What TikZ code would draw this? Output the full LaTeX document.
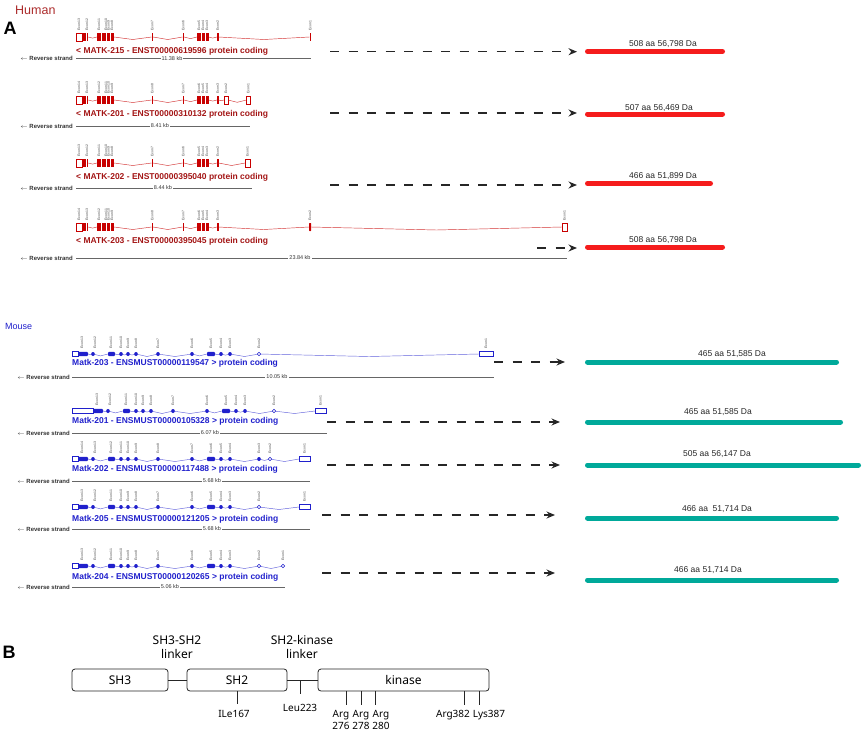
\documentclass[tikz,border=0pt]{standalone}
\usepackage{fontspec}
\setmainfont{Liberation Sans}
\newfontfamily\domainfont{Noto Sans}
\usetikzlibrary{arrows.meta, calc}

\definecolor{humanred}{HTML}{A31515}
\definecolor{exonred}{HTML}{C80000}
\definecolor{barred}{HTML}{F51C1C}
\definecolor{mouseblue}{HTML}{2020CC}
\definecolor{barteal}{HTML}{00A99A}

\begin{document}
\begin{tikzpicture}[
        x=1pt, y=-1pt,
        letter/.style={inner sep=0pt, font=\fontsize{18}{18}\selectfont\bfseries},
        exon-label/.style={rotate=90, anchor=west, inner sep=0pt, text=black!75, font=\fontsize{3.4}{3.4}\selectfont},
        h-title/.style={anchor=west, inner sep=0pt, text=humanred, font=\fontsize{8.5}{9}\selectfont\bfseries},
        m-title/.style={anchor=west, inner sep=0pt, text=mouseblue, font=\fontsize{8.5}{9}\selectfont\bfseries},
        strand/.style={anchor=east, inner sep=0pt, text=black!80, font=\fontsize{6}{6}\selectfont\bfseries},
        scale-line/.style={draw=black!60, line width=0.6pt},
        kb/.style={fill=white, inner sep=1pt, text=black!80, font=\fontsize{5.5}{5.5}\selectfont},
        h-intron/.style={draw=exonred!80, line width=0.45pt},
        h-exon/.style={fill=exonred},
        h-utr/.style={draw=exonred, fill=white, line width=0.5pt},
        m-intron/.style={draw=mouseblue!70, line width=0.45pt},
        m-exon/.style={fill=mouseblue},
        m-utr/.style={draw=mouseblue, fill=white, line width=0.5pt},
        flow/.style={draw=black!85, line width=1.3pt, dash pattern=on 9pt off 9.5pt, -{Stealth[length=8.5pt, width=7pt]}},
        h-bar/.style={draw=barred, line width=5pt, line cap=round},
        m-bar/.style={draw=barteal, line width=5pt, line cap=round},
        bar-label/.style={inner sep=0pt, text=black!85, font=\fontsize{8.5}{9}\selectfont},
        domain-box/.style={draw=black!85, line width=0.8pt, rounded corners=3pt, minimum height=22pt, inner sep=0pt, font=\domainfont\fontsize{12}{12}\selectfont},
        linker-label/.style={align=center, inner sep=0pt, font=\domainfont\fontsize{12}{14}\selectfont},
        site/.style={draw=black!85, line width=0.8pt},
        site-label/.style={below=6pt, align=center, inner sep=0pt, font=\domainfont\fontsize{10}{12}\selectfont},
    ]
    \useasboundingbox (0,0) rectangle (865,736);

    % panel A, human
    \node[anchor=west, inner sep=0pt, text=humanred!90, font=\fontsize{12.5}{12.5}\selectfont] (human) at (15,10) {Human};
    \node[letter] (letter-a) at (10,28.5) {A};

    \foreach \y/\n in {37/13, 100/14, 163/13, 227/14}
    {
        \foreach \a/\b in {88.3/97, 114/151.6, 153/182.6, 184/197, 208.5/217}
            \draw[h-intron] (\a,\y) -- ({(\a+\b)/2},{\y+min(2.5,(\b-\a)/8)}) -- (\b,\y);
        \draw[h-utr] (76,\y-4) rectangle (82,\y+4);
        \foreach \a/\b in {82/86, 86.8/88.3, 97/101, 102/105.5, 106.5/109.5, 110.5/114, 151.6/153, 182.6/184, 197/200.5, 201.5/204.5, 205.5/208.5, 217/218.5}
            \fill[h-exon] (\a,\y-4) rectangle (\b,\y+4);
        \foreach \x [count=\i] in {79, 87, 99, 106, 108.5, 112, 152.3, 183.3, 199, 203, 207, 217.8}
        {
            \pgfmathtruncatemacro{\k}{\n-\i+1}
            \node[exon-label] at (\x,\y-6) {Exon \k};
        }
    }

    % MATK-215
    \draw[h-intron] (218.5,37) -- (264,39.5) -- (309.5,37);
    \fill[h-exon] (309.5,33) rectangle (311,41);
    \node[exon-label] at (310.2,31) {Exon 1};
    % MATK-201
    \draw[h-intron] (218.5,100) -- (221.2,100.7) -- (224,100);
    \draw[h-intron] (228,100) -- (237.2,102.3) -- (246.5,100);
    \draw[h-utr] (224,96) rectangle (228,104);
    \draw[h-utr] (246.5,96) rectangle (250,104);
    \node[exon-label] at (226,94) {Exon 2};
    \node[exon-label] at (248.2,94) {Exon 1};
    % MATK-202
    \draw[h-intron] (218.5,163) -- (231.7,165.5) -- (245,163);
    \draw[h-utr] (245,159) rectangle (250,167);
    \node[exon-label] at (247.5,157) {Exon 1};
    % MATK-203
    \draw[h-intron] (218.5,227) -- (263.7,229.5) -- (309,227);
    \draw[h-intron] (311,227) -- (436.5,230) -- (562,227);
    \fill[h-exon, rounded corners=0.5pt] (309,223) rectangle (311,231);
    \draw[h-utr] (562,223) rectangle (567,231);
    \node[exon-label] at (310,221) {Exon 2};
    \node[exon-label] at (564.5,221) {Exon 1};

    \node[h-title] (h215-title) at (76,51.7) {< MATK-215 - ENST00000619596 protein coding};
    \node[h-title] (h201-title) at (76,114.3) {< MATK-201 - ENST00000310132 protein coding};
    \node[h-title] (h202-title) at (76,177) {< MATK-202 - ENST00000395040 protein coding};
    \node[h-title] (h203-title) at (76,241) {< MATK-203 - ENST00000395045 protein coding};

    \foreach \y/\xe/\xk/\len in {58.5/311/172/11.38, 126/250/160/8.41, 188/252/163/8.44, 258/567/300/23.84}
    {
        \node[strand] at (73,\y) {$\leftarrow$ Reverse strand};
        \draw[scale-line] (76,\y) -- (\xe,\y);
        \node[kb] at (\xk,\y) {\len\ kb};
    }

    \foreach \id/\xs/\ya/\xt/\yb/\xe/\lx/\ly/\txt in {
        h215/330/51.7/577/51.5/722.5/663/44/{508 aa 56,798 Da},
        h201/330/113/577/114/722.5/659/108/{507 aa 56,469 Da},
        h202/330/185/577/183.5/710.5/663/176/{466 aa 51,899 Da},
        h203/537/248/577/247/722.5/663/240/{508 aa 56,798 Da}}
    {
        \coordinate (\id-out) at (\xs,\ya);
        \coordinate (\id-tip) at (\xt,\ya);
        \draw[flow] (\id-out) -- (\id-tip);
        \draw[h-bar] (587.5,\yb) -- (\xe,\yb);
        \node[bar-label] (\id-label) at (\lx,\ly) {\txt};
    }

    % panel A, mouse
    \node[anchor=west, inner sep=0pt, text=mouseblue, font=\fontsize{9}{9}\selectfont] (mouse) at (5,326) {Mouse};

    \foreach \y/\s/\n in {354/0/13, 411/15/13, 459/0/14, 507/0/13, 566/0/13}
    {
        \foreach \a/\b in {88/93, 93/108, 115/121, 121/128, 128/136, 136/158, 158/192, 192/207, 215/221, 221/230, 230/259}
            \draw[m-intron] (\a+\s,\y) -- ({(\a+\b)/2+\s},{\y+min(2.5,(\b-\a)/8)}) -- (\b+\s,\y);
        \draw[m-utr] (72,\y-2.5) rectangle (78+\s,\y+2.5);
        \foreach \a/\b in {78/88, 108/115, 207/215}
            \fill[m-exon, rounded corners=1pt] (\a+\s,\y-2.2) rectangle (\b+\s,\y+2.2);
        \foreach \x in {93, 121, 128, 136, 158, 192, 221, 230}
            \fill[m-exon] (\x+\s,\y) ellipse (1.8 and 2);
        \foreach \x [count=\i] in {82, 95, 111, 121, 128, 136, 158, 192, 211, 221, 230, 259}
        {
            \pgfmathtruncatemacro{\k}{\n-\i+1}
            \node[exon-label] at (\x+\s,\y-5) {Exon \k};
        }
    }

    % Matk-203
    \draw[m-intron] (259,354) -- (369,356.5) -- (479,354);
    \draw[m-utr] (259,354) circle (1.8);
    \draw[m-utr] (479,351.5) rectangle (493,356.5);
    \node[exon-label] at (486,349) {Exon 1};
    % Matk-201
    \draw[m-intron] (274,411) -- (294.5,413.5) -- (315,411);
    \draw[m-utr] (274,411) circle (1.8);
    \draw[m-utr] (315,408.5) rectangle (326,413.5);
    \node[exon-label] at (320.5,406) {Exon 1};
    % Matk-202
    \draw[m-intron] (259,459) -- (264.5,460.4) -- (270,459);
    \draw[m-intron] (270,459) -- (284.5,461.5) -- (299,459);
    \fill[m-exon] (259,459) ellipse (1.8 and 2);
    \draw[m-utr] (270,459) circle (1.8);
    \draw[m-utr] (299,456.5) rectangle (310,461.5);
    \node[exon-label] at (270,454) {Exon 2};
    \node[exon-label] at (304.5,454) {Exon 1};
    % Matk-205
    \draw[m-intron] (259,507) -- (279,509.5) -- (299,507);
    \draw[m-utr] (259,507) circle (1.8);
    \draw[m-utr] (299,504.5) rectangle (310,509.5);
    \node[exon-label] at (304.5,502) {Exon 1};
    % Matk-204
    \draw[m-intron] (259,566) -- (271,568.5) -- (283,566);
    \draw[m-utr] (259,566) circle (1.8);
    \draw[m-utr] (283,566) circle (1.8);
    \node[exon-label] at (283,561) {Exon 1};

    \node[m-title] (m203-title) at (72,363.3) {Matk-203 - ENSMUST00000119547 > protein coding};
    \node[m-title] (m201-title) at (72,421) {Matk-201 - ENSMUST00000105328 > protein coding};
    \node[m-title] (m202-title) at (72,469) {Matk-202 - ENSMUST00000117488 > protein coding};
    \node[m-title] (m205-title) at (72,519) {Matk-205 - ENSMUST00000121205 > protein coding};
    \node[m-title] (m204-title) at (72,577) {Matk-204 - ENSMUST00000120265 > protein coding};

    \foreach \y/\xe/\xk/\len in {377/494/277/10.05, 433/327/210/6.07, 481/310/212/5.68, 529/310/212/5.68, 587/285/170/5.06}
    {
        \node[strand] at (70,\y) {$\leftarrow$ Reverse strand};
        \draw[scale-line] (72,\y) -- (\xe,\y);
        \node[kb] at (\xk,\y) {\len\ kb};
    }

    \foreach \id/\xs/\ya/\xt/\yb/\xe/\lx/\ly/\txt in {
        m203/494/362/565/362/836.5/732/354/{465 aa 51,585 Da},
        m201/327/422/560/422/840.5/718/412/{465 aa 51,585 Da},
        m202/327/465/560/465/858.5/717/454/{505 aa 56,147 Da},
        m205/322/515/555/518/836.5/717/509/{466 aa\ \ 51,714 Da},
        m204/322/573/555/580/836.5/708/570/{466 aa 51,714 Da}}
    {
        \coordinate (\id-out) at (\xs,\ya);
        \coordinate (\id-tip) at (\xt,\ya);
        \draw[flow] (\id-out) -- (\id-tip);
        \draw[m-bar] (587.5,\yb) -- (\xe,\yb);
        \node[bar-label] (\id-label) at (\lx,\ly) {\txt};
    }

    % panel B
    \node[letter] (letter-b) at (9,652) {B};
    \node[linker-label] (sh3-sh2-label) at (177,647) {SH3-SH2\\linker};
    \node[linker-label] (sh2-kinase-label) at (302,647) {SH2-kinase\\linker};

    \node[domain-box, minimum width=96pt] (sh3) at (120,680) {SH3};
    \node[domain-box, minimum width=100pt] (sh2) at (237,680) {SH2};
    \node[domain-box, minimum width=171pt] (kinase) at (403.5,680) {kinase};

    \draw[site] (sh3.east) -- (sh2.west);
    \draw[site] (sh2.east) -- (kinase.west);

    \coordinate (leu-site) at ($(sh2.east)!0.42!(kinase.west)$);
    \draw[site] (leu-site) -- ++(0,14) node[site-label, below=4pt] (leu223) {Leu223};
    \draw[site] (sh2.south) -- ++(0,13);
    \node[site-label] (ile167) at (234,704) {ILe167};

    \foreach \x/\lx/\txt in {346/341/{Arg\\276}, 361/361/{Arg\\278}, 375/381/{Arg\\280}, 464/453/Arg382, 479/489/Lys387}
    {
        \draw[site] (kinase.south -| \x,0) -- ++(0,14);
        \node[site-label] at (\lx,704) {\txt};
    }
\end{tikzpicture}
\end{document}
